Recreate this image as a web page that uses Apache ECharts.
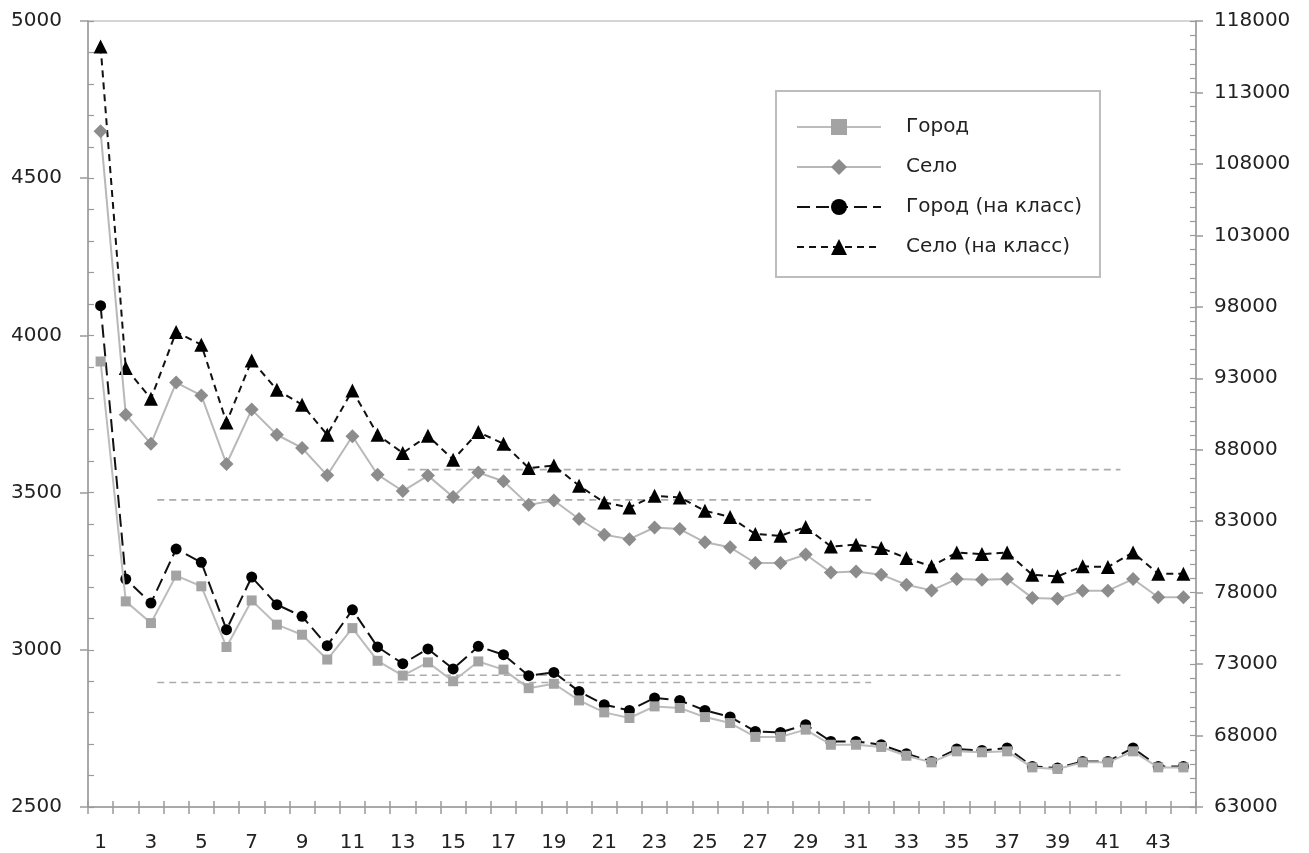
<!DOCTYPE html>
<html>
<head>
<meta charset="utf-8">
<script src="https://cdn.jsdelivr.net/npm/echarts@6/dist/echarts.min.js"></script>
<style>
html,body{margin:0;padding:0;background:#fff;}
#chart{width:1309px;height:853px;}
</style>
</head>
<body>
<div id="chart"></div>
<script>
const categories = ['1','2','3','4','5','6','7','8','9','10','11','12','13','14','15','16','17','18','19','20','21','22','23','24','25','26','27','28','29','30','31','32','33','34','35','36','37','38','39','40','41','42','43','44'];

const seriesNames = ['Город', 'Село', 'Город (на класс)', 'Село (на класс)'];

const gorod = [3917,3154,3085,3236,3202,3009,3157,3080,3048,2969,3069,2965,2918,2960,2900,2963,2937,2878,2892,2839,2801,2783,2820,2815,2786,2767,2723,2723,2746,2698,2698,2691,2663,2642,2677,2674,2677,2626,2621,2642,2642,2677,2626,2626];

const selo = [4649,3748,3655,3850,3809,3591,3764,3684,3642,3555,3679,3557,3505,3554,3486,3564,3536,3461,3475,3416,3366,3352,3389,3384,3342,3326,3276,3276,3303,3246,3249,3239,3207,3189,3225,3223,3225,3165,3162,3188,3188,3225,3167,3167];

const gorodClass = [98080,78950,77270,81050,80120,75410,79090,77160,76340,74290,76800,74200,73030,74060,72660,74240,73660,72190,72420,71090,70160,69760,70630,70460,69760,69300,68290,68220,68760,67590,67590,67360,66730,66190,67060,66960,67130,65840,65730,66190,66190,67130,65840,65840];

const seloClass = [116220,93720,91570,96240,95350,89910,94250,92200,91150,89050,92150,89050,87770,88980,87300,89240,88420,86720,86900,85480,84310,83960,84780,84660,83730,83290,82100,81980,82590,81230,81350,81120,80420,79840,80810,80700,80810,79250,79140,79840,79790,80810,79320,79320];

// dashed reference lines (left axis values), spanning category positions
const refStart = [3.25, 13.2, 3.25, 13.2];
const refEnd   = [31.6, 41.5, 31.6, 41.5];
const refValue = [3477, 3573, 2896, 2919];

const leftAxis = {min: 2500, max: 5000, interval: 500};
const rightAxis = {min: 63000, max: 118000, interval: 5000};

const FONT = 'DejaVu Sans';
const TXT = '#222';
const AXC = '#9a9a9a';
const plain = v => String(v);

const chart = echarts.init(document.getElementById('chart'), null, {renderer: 'canvas'});

const refSeries = refValue.map((v, i) => ({
  type: 'line',
  xAxisIndex: 1,
  yAxisIndex: 0,
  data: [[refStart[i], v], [refEnd[i], v]],
  symbol: 'none',
  silent: true,
  z: 1,
  lineStyle: {color: '#ababab', width: 1.6, type: [7, 5]},
  tooltip: {show: false}
}));

const option = {
  animation: false,
  backgroundColor: '#fff',
  textStyle: {fontFamily: FONT, color: TXT},
  grid: {left: 88, right: 113, top: 21, bottom: 46, show: true, borderColor: '#c8c8c8', borderWidth: 1.5, containLabel: false},
  legend: {
    data: seriesNames,
    orient: 'vertical',
    left: 776,
    top: 91,
    padding: [26, 18, 20, 20],
    itemWidth: 84,
    itemHeight: 20,
    itemGap: 20,
    borderColor: '#bdbdbd',
    borderWidth: 2,
    backgroundColor: '#fff',
    textStyle: {fontFamily: FONT, fontSize: 20, color: TXT, padding: [0, 0, 0, 20]}
  },
  xAxis: [
    {
      type: 'category', data: categories, boundaryGap: true, position: 'bottom',
      axisLine: {show: true, lineStyle: {color: AXC, width: 1.5}},
      axisTick: {show: true, alignWithLabel: false, interval: 0, length: 7, lineStyle: {color: AXC, width: 1.5}},
      axisLabel: {interval: 1, margin: 26, fontFamily: FONT, fontSize: 20, color: TXT},
      splitLine: {show: false}
    },
    {type: 'value', min: 0.5, max: 44.5, show: false},
    {
      type: 'category', data: categories, boundaryGap: true, position: 'bottom',
      axisLine: {show: false},
      axisTick: {show: true, inside: true, interval: 0, length: 6, lineStyle: {color: AXC, width: 1.5}},
      axisLabel: {show: false},
      splitLine: {show: false}
    }
  ],
  yAxis: [
    {
      type: 'value', position: 'left', min: leftAxis.min, max: leftAxis.max, interval: leftAxis.interval,
      axisLine: {show: true, lineStyle: {color: AXC, width: 1.5}},
      axisTick: {show: true, length: 8, lineStyle: {color: AXC, width: 1.5}},
      axisLabel: {margin: 26, fontFamily: FONT, fontSize: 20, color: TXT, formatter: plain},
      splitLine: {show: false}
    },
    {
      type: 'value', position: 'right', min: rightAxis.min, max: rightAxis.max, interval: rightAxis.interval,
      axisLine: {show: true, lineStyle: {color: AXC, width: 1.5}},
      axisTick: {show: true, length: 7, lineStyle: {color: AXC, width: 1.5}},
      axisLabel: {margin: 18, fontFamily: FONT, fontSize: 20, color: TXT, formatter: plain},
      splitLine: {show: false}
    },
    {
      type: 'value', position: 'left', min: leftAxis.min, max: leftAxis.max, interval: 100,
      axisLine: {show: false},
      axisTick: {show: true, inside: true, length: 6, lineStyle: {color: AXC, width: 1.2}},
      axisLabel: {show: false},
      splitLine: {show: false}
    },
    {
      type: 'value', position: 'right', min: rightAxis.min, max: rightAxis.max, interval: 1000,
      axisLine: {show: false},
      axisTick: {show: true, inside: true, length: 6, lineStyle: {color: AXC, width: 1.2}},
      axisLabel: {show: false},
      splitLine: {show: false}
    }
  ],
  series: [
    ...refSeries,
    {
      name: seriesNames[2], type: 'line', xAxisIndex: 0, yAxisIndex: 1, data: gorodClass,
      symbol: 'circle', symbolSize: 11, z: 3,
      lineStyle: {color: '#111', width: 2, type: [13, 6]},
      itemStyle: {color: '#000'}
    },
    {
      name: seriesNames[3], type: 'line', xAxisIndex: 0, yAxisIndex: 1, data: seloClass,
      symbol: 'triangle', symbolSize: 14, z: 3,
      lineStyle: {color: '#111', width: 2, type: [7, 5]},
      itemStyle: {color: '#000'}
    },
    {
      name: seriesNames[0], type: 'line', xAxisIndex: 0, yAxisIndex: 0, data: gorod,
      symbol: 'rect', symbolSize: 10, z: 4,
      lineStyle: {color: '#bcbcbc', width: 2},
      itemStyle: {color: '#a3a3a3'}
    },
    {
      name: seriesNames[1], type: 'line', xAxisIndex: 0, yAxisIndex: 0, data: selo,
      symbol: 'diamond', symbolSize: 14, z: 4,
      lineStyle: {color: '#b8b8b8', width: 2},
      itemStyle: {color: '#8c8c8c'}
    }
  ]
};
chart.setOption(option);
</script>
</body>
</html>
